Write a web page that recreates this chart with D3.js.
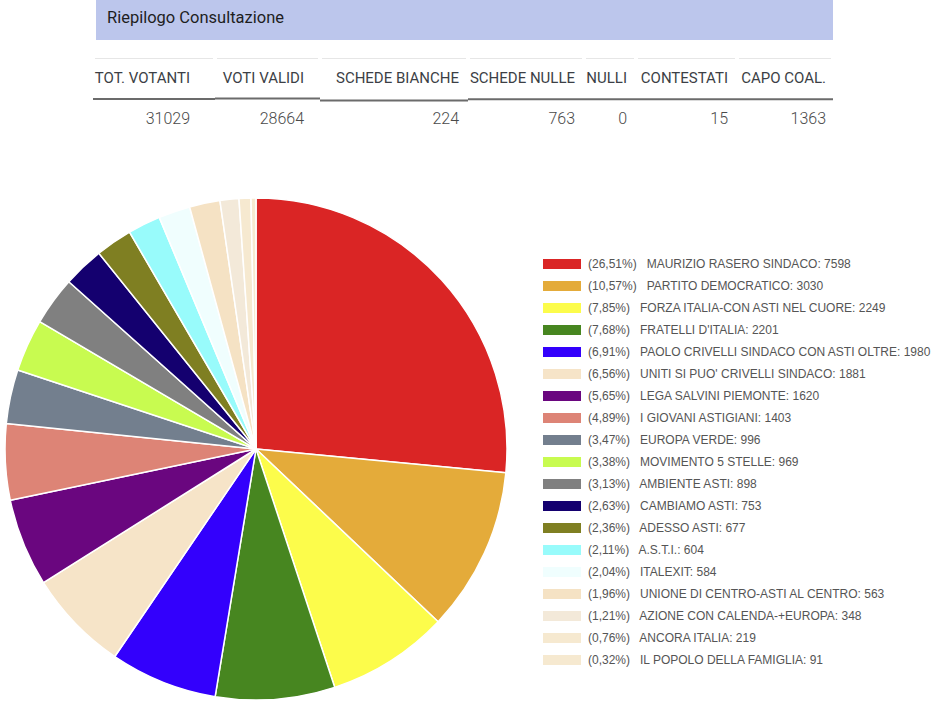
<!DOCTYPE html>
<html>
<head>
<meta charset="utf-8">
<script src="https://cdn.jsdelivr.net/npm/d3@7"></script>
<style>
  html, body { margin: 0; padding: 0; background: #fff; }
  svg { display: block; }
</style>
</head>
<body>
<svg id="chart" width="946" height="721"></svg>
<script>
// ---------------- DATA ----------------
const title = "Riepilogo Consultazione";
const summaryLabels = ["TOT. VOTANTI", "VOTI VALIDI", "SCHEDE BIANCHE", "SCHEDE NULLE", "NULLI", "CONTESTATI", "CAPO COAL."];
const summaryValues = [31029, 28664, 224, 763, 0, 15, 1363];

const parties = [
  "MAURIZIO RASERO SINDACO",
  "PARTITO DEMOCRATICO",
  "FORZA ITALIA-CON ASTI NEL CUORE",
  "FRATELLI D'ITALIA",
  "PAOLO CRIVELLI SINDACO CON ASTI OLTRE",
  "UNITI SI PUO' CRIVELLI SINDACO",
  "LEGA SALVINI PIEMONTE",
  "I GIOVANI ASTIGIANI",
  "EUROPA VERDE",
  "MOVIMENTO 5 STELLE",
  "AMBIENTE ASTI",
  "CAMBIAMO ASTI",
  "ADESSO ASTI",
  "A.S.T.I.",
  "ITALEXIT",
  "UNIONE DI CENTRO-ASTI AL CENTRO",
  "AZIONE CON CALENDA-+EUROPA",
  "ANCORA ITALIA",
  "IL POPOLO DELLA FAMIGLIA"
];
const votes = [7598, 3030, 2249, 2201, 1980, 1881, 1620, 1403, 996, 969, 898, 753, 677, 604, 584, 563, 348, 219, 91];
const percentLabels = ["26,51", "10,57", "7,85", "7,68", "6,91", "6,56", "5,65", "4,89", "3,47", "3,38", "3,13", "2,63", "2,36", "2,11", "2,04", "1,96", "1,21", "0,76", "0,32"];
const colors = ["#da2525", "#e4ab3a", "#fcfc4b", "#478620", "#3300fc", "#f6e4c8", "#6a067f", "#dd8476",
                "#737f8e", "#c8fb50", "#808080", "#14006f", "#7f7f22", "#98fbfb", "#f0fefe", "#f5e2c4",
                "#f3e9d9", "#f6e9d0", "#f6e9d0"];

// ---------------- LAYOUT ----------------
const svg = d3.select("#chart");
const colRight = [190, 304, 459, 575, 627, 728, 826];
const colLeft  = [93, 215, 320, 468, 584, 636, 737];
const colEnd   = [215, 320, 468, 584, 636, 737, 833];
const lineY    = [99, 98.5, 100.5, 99.3, 99.3, 99.3, 99.3];

// header bar
svg.append("rect").attr("x", 96).attr("y", 0).attr("width", 737).attr("height", 40).attr("fill", "#bcc6ec");
svg.append("text").attr("x", 107).attr("y", 23)
  .attr("font-family", "Roboto, 'Open Sans', sans-serif").attr("font-size", 17)
  .attr("fill", "#1e1e1e").attr("textLength", 177).attr("lengthAdjust", "spacingAndGlyphs")
  .text(title);

// table
const cols = summaryLabels.map((l, i) => ({label: l, value: summaryValues[i], i}));
const g = svg.append("g");
g.selectAll("line.top").data(cols).join("line")
  .attr("x1", d => colLeft[d.i] + 2).attr("x2", d => colEnd[d.i] - 2)
  .attr("y1", 58.5).attr("y2", 58.5)
  .attr("stroke", "#e6e6e6").attr("stroke-width", 1);
g.selectAll("line.bottom").data(cols).join("line")
  .attr("x1", d => colLeft[d.i]).attr("x2", d => colEnd[d.i])
  .attr("y1", d => lineY[d.i]).attr("y2", d => lineY[d.i])
  .attr("stroke", "#6b6b6b").attr("stroke-width", 2);
g.selectAll("text.lab").data(cols).join("text")
  .attr("x", d => colRight[d.i]).attr("y", 83)
  .attr("text-anchor", "end")
  .attr("font-family", "Roboto, 'Open Sans', sans-serif").attr("font-size", 15)
  .attr("fill", "#3c3f46")
  .text(d => d.label);
g.selectAll("text.val").data(cols).join("text")
  .attr("x", d => colRight[d.i]).attr("y", 124)
  .attr("text-anchor", "end")
  .attr("font-family", "Roboto, 'Open Sans', sans-serif").attr("font-size", 16)
  .attr("font-weight", 300)
  .attr("fill", "#4a4a4a")
  .text(d => d.value);

// pie
const cx = 256, cy = 449, R = 251;
const pie = d3.pie().sort(null).value(d => d.v);
const arc = d3.arc().innerRadius(0).outerRadius(R);
const pieData = votes.map((v, i) => ({v, i}));
svg.append("g").attr("transform", `translate(${cx},${cy})`)
  .selectAll("path").data(pie(pieData)).join("path")
  .attr("d", arc)
  .attr("fill", d => colors[d.data.i])
  .attr("stroke", "#fff").attr("stroke-width", 1.5).attr("stroke-linejoin", "round");

// legend
const y0 = 264, dy = 22;
const yScale = d3.scaleLinear().domain([0, 1]).range([y0, y0 + dy]);
const leg = svg.append("g").selectAll("g").data(parties.map((p, i) => ({p, i}))).join("g")
  .attr("transform", d => `translate(0,${yScale(d.i)})`);
leg.append("rect").attr("x", 543).attr("y", -5).attr("width", 38).attr("height", 10)
  .attr("fill", d => colors[d.i]);
leg.append("text").attr("x", 588).attr("y", 4.3)
  .attr("font-family", "'Liberation Sans', Arial, sans-serif").attr("font-size", 12)
  .attr("fill", "#555")
  .attr("xml:space", "preserve").style("white-space", "pre")
  .text(d => `(${percentLabels[d.i]}%)   ${d.p}: ${votes[d.i]}`);
</script>
</body>
</html>
